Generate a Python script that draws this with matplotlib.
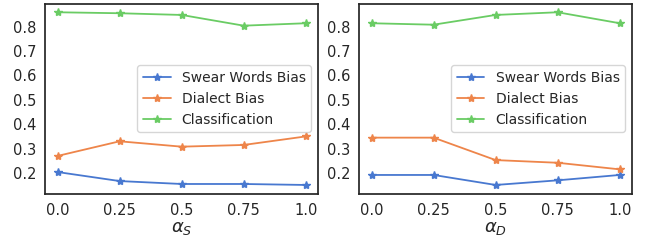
import numpy as np
import matplotlib
matplotlib.use("Agg")
import matplotlib.pyplot as plt
import seaborn as sns

sns.set_theme(style="white", palette="muted")

alphas = [0.0, 0.25, 0.5, 0.75, 1.0]
tick_labels = ["0.0", "0.25", "0.5", "0.75", "1.0"]

# left panel: varying alpha_S
swear_s = [0.204, 0.167, 0.155, 0.155, 0.151]
dialect_s = [0.270, 0.330, 0.308, 0.315, 0.350]
classif_s = [0.859, 0.855, 0.848, 0.804, 0.814]

# right panel: varying alpha_D
swear_d = [0.192, 0.192, 0.151, 0.170, 0.192]
dialect_d = [0.345, 0.345, 0.253, 0.242, 0.215]
classif_d = [0.814, 0.808, 0.848, 0.859, 0.814]

colors = sns.color_palette("muted")

fig, axes = plt.subplots(1, 2, figsize=(6.45, 2.42), dpi=100)
panels = [(axes[0], swear_s, dialect_s, classif_s, r"$\alpha_S$"),
          (axes[1], swear_d, dialect_d, classif_d, r"$\alpha_D$")]

for ax, sw, di, cl, xl in panels:
    ax.plot(alphas, sw, marker="*", color=colors[0], lw=1.3, ms=6, label="Swear Words Bias")
    ax.plot(alphas, di, marker="*", color=colors[1], lw=1.3, ms=6, label="Dialect Bias")
    ax.plot(alphas, cl, marker="*", color=colors[2], lw=1.3, ms=6, label="Classification")
    ax.set_xticks(alphas)
    ax.set_xticklabels(tick_labels)
    ax.set_yticks([0.2, 0.3, 0.4, 0.5, 0.6, 0.7, 0.8])
    ax.tick_params(axis="x", labelsize=10.5, length=0, pad=6.5)
    ax.tick_params(axis="y", labelsize=10.5, length=0, pad=6.5)
    ax.set_xlabel(xl, fontsize=13, labelpad=1)
    ax.legend(loc="center right", fontsize=10)

fig.subplots_adjust(left=0.07, right=0.98, bottom=0.2, top=0.985, wspace=0.15)
fig.savefig("out.png")
